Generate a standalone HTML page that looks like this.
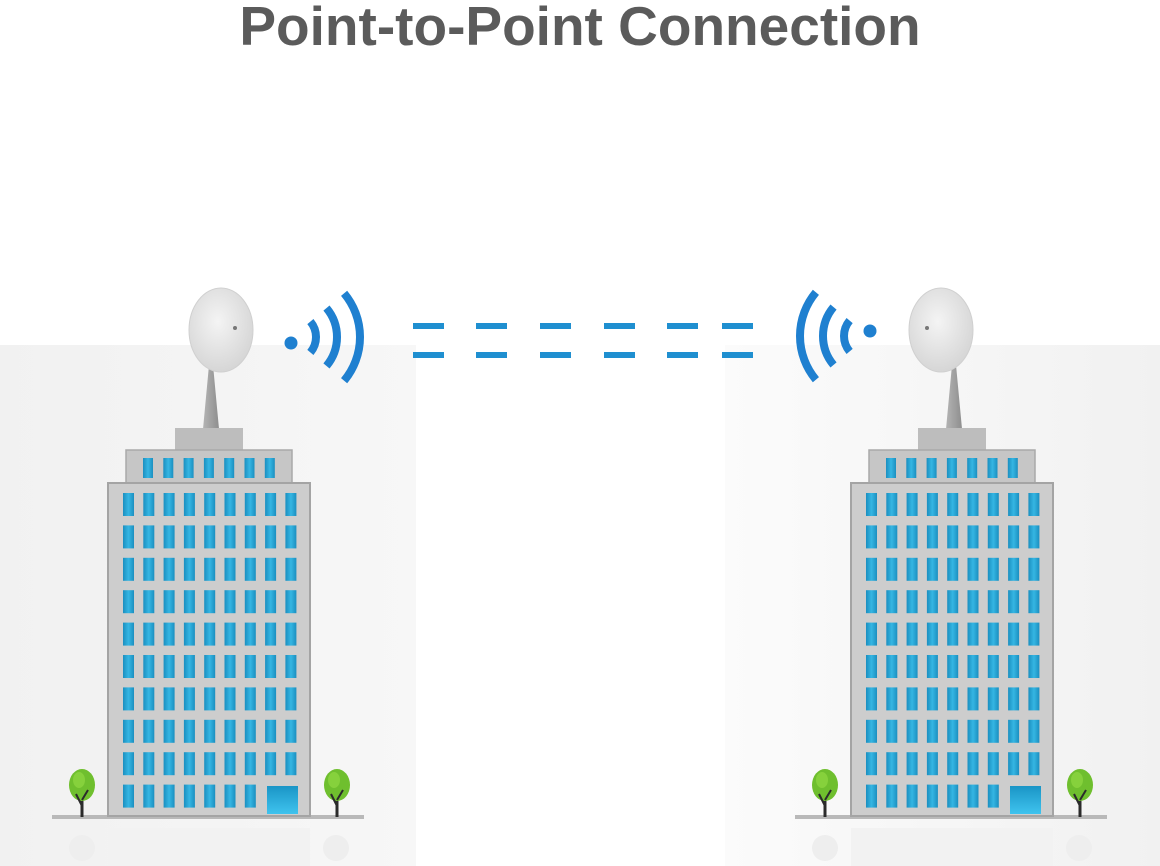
<!DOCTYPE html>
<html><head><meta charset="utf-8"><style>
html,body{margin:0;padding:0;background:#fff;}
body{width:1160px;height:866px;overflow:hidden;position:relative;font-family:"Liberation Sans",sans-serif;}
h1{position:absolute;top:-4px;left:0;width:1160px;margin:0;text-align:center;font-size:55px;font-weight:bold;color:#5b5b5b;line-height:60px;}
svg{position:absolute;left:0;top:0;}
</style></head><body>
<svg id="s" width="1160" height="866" viewBox="0 0 1160 866">
<defs>
<linearGradient id="bgL" x1="0" x2="1" y1="0" y2="0"><stop offset="0" stop-color="#f1f1f1"/><stop offset="1" stop-color="#f7f7f7"/></linearGradient>
<linearGradient id="bgR" x1="0" x2="1" y1="0" y2="0"><stop offset="0" stop-color="#fbfbfb"/><stop offset="1" stop-color="#f1f1f1"/></linearGradient>
<linearGradient id="win" x1="0" x2="1"><stop offset="0" stop-color="#1b8fc0"/><stop offset="0.5" stop-color="#35b6e3"/><stop offset="1" stop-color="#1b8fc0"/></linearGradient>
<linearGradient id="door" x1="0" x2="0" y1="0" y2="1"><stop offset="0" stop-color="#1a95c6"/><stop offset="1" stop-color="#3fc3ee"/></linearGradient>
<radialGradient id="dish" cx="0.45" cy="0.4" r="0.6"><stop offset="0" stop-color="#f4f4f4"/><stop offset="1" stop-color="#d6d6d6"/></radialGradient>
<linearGradient id="ant" x1="0" x2="1"><stop offset="0" stop-color="#b4b4b4"/><stop offset="1" stop-color="#8e8e8e"/></linearGradient>
</defs>
<rect x="0" y="345" width="416" height="521" fill="url(#bgL)"/>
<rect x="725" y="345" width="435" height="521" fill="url(#bgR)"/>
<g id="dashes" fill="#1f8fd0"></g>
<g id="b"></g>
</svg>
<h1>Point-to-Point Connection</h1>
<script>
var NS="http://www.w3.org/2000/svg";
function el(p,t,a){var e=document.createElementNS(NS,t);for(var k in a)e.setAttribute(k,a[k]);p.appendChild(e);return e;}
var d=document.getElementById('dashes');
[413,476,540,604,667,722].forEach(function(x){el(d,'rect',{x:x,y:323,width:31,height:6});el(d,'rect',{x:x,y:352,width:31,height:6});});
var g=document.getElementById('b');
function building(o,dishX){
  el(g,'rect',{x:108+o,y:828,width:202,height:38,fill:'#f2f2f2'});
  el(g,'circle',{cx:82+o,cy:848,r:13,fill:'#eeeeee'});
  el(g,'circle',{cx:336+o,cy:848,r:13,fill:'#eeeeee'});
  el(g,'rect',{x:52+o,y:815,width:312,height:4,fill:'#b9b9b9'});
  el(g,'polygon',{points:(203+o)+',429 '+(219+o)+',429 '+(213+o)+',365 '+(209+o)+',365',fill:'url(#ant)'});
  el(g,'ellipse',{cx:dishX,cy:330,rx:32,ry:42,fill:'url(#dish)',stroke:'#d0d0d0','stroke-width':1});
  el(g,'circle',{cx:dishX-14*(o?1:-1),cy:328,r:2,fill:'#777'});
  el(g,'rect',{x:175+o,y:428,width:68,height:23,fill:'#bdbdbd'});
  el(g,'rect',{x:126+o,y:450,width:166,height:34,fill:'#c6c6c6',stroke:'#a9a9a9','stroke-width':1.5});
  for(var i=0;i<7;i++)el(g,'rect',{x:143+o+i*20.3,y:458,width:10,height:20,fill:'url(#win)'});
  el(g,'rect',{x:108+o,y:483,width:202,height:333,fill:'#cdcdcd',stroke:'#a4a4a4','stroke-width':2});
  for(var r=0;r<10;r++)for(var c=0;c<9;c++){
    if(r==9&&c>=7)continue;
    el(g,'rect',{x:123+o+c*20.3,y:493+r*32.4,width:11,height:23,fill:'url(#win)'});
  }
  el(g,'rect',{x:267+o,y:786,width:31,height:28,fill:'url(#door)'});
  [82,337].forEach(function(t){
    el(g,'rect',{x:t-1.5+o,y:790,width:3,height:27,fill:'#2b2b2b'});
    el(g,'ellipse',{cx:t+o,cy:785,rx:13,ry:16,fill:'#6fbf2e'});
    el(g,'ellipse',{cx:t+o-3,cy:780,rx:6,ry:8,fill:'#86d13c'});
    el(g,'path',{d:'M'+(t+o)+' 806 L'+(t+o-6)+' 794 M'+(t+o)+' 800 L'+(t+o+6)+' 790',stroke:'#2b2b2b','stroke-width':2,fill:'none'});
  });
}
building(0,221);building(743,941);
function arc(cx,cy,r,dir){
  var a=40*Math.PI/180,s=dir;
  var x1=cx+s*r*Math.cos(a),y1=cy-r*Math.sin(a),y2=cy+r*Math.sin(a);
  el(g,'path',{d:'M'+x1+' '+y1+' A'+r+' '+r+' 0 0 '+(s>0?1:0)+' '+x1+' '+y2,stroke:'#1f80d0','stroke-width':8,fill:'none'});
}
el(g,'circle',{cx:291,cy:343,r:6.5,fill:'#1f80d0'});
[24,45,68].forEach(function(r){arc(292,337,r,1);});
el(g,'circle',{cx:870,cy:331,r:6.5,fill:'#1f80d0'});
[24,45,68].forEach(function(r){arc(868,336,r,-1);});
</script>
</body></html>
